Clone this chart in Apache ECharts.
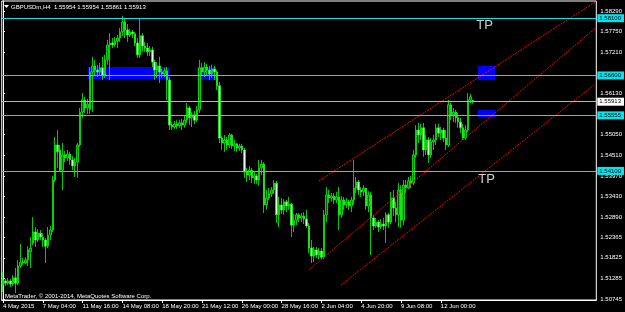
<!DOCTYPE html>
<html><head><meta charset="utf-8">
<script src="https://cdn.jsdelivr.net/npm/echarts@6/dist/echarts.min.js"></script>
<style>html,body{margin:0;padding:0;background:#000;}#c{width:625px;height:312px;}</style>
</head><body><div id="c"></div>
<script>
// ---- data (GBPUSDm, H4) ----
const openP = [
1.5111,1.5122,1.5116,1.5122,1.5114,1.5130,1.5116,1.5161,1.5171,1.5169,
1.5177,1.5198,1.5221,1.5250,1.5229,1.5247,1.5237,1.5229,1.5213,1.5242,
1.5255,1.5386,1.5478,1.5465,1.5412,1.5452,1.5444,1.5454,1.5439,1.5423,
1.5433,1.5478,1.5564,1.5596,1.5575,1.5570,1.5669,1.5685,1.5674,1.5669,
1.5680,1.5661,1.5701,1.5740,1.5745,1.5740,1.5750,1.5758,1.5774,1.5800,
1.5779,1.5766,1.5774,1.5769,1.5745,1.5714,1.5764,1.5737,1.5732,1.5722,
1.5727,1.5695,1.5674,1.5685,1.5669,1.5664,1.5672,1.5648,1.5530,1.5525,
1.5533,1.5528,1.5536,1.5530,1.5543,1.5575,1.5549,1.5557,1.5543,1.5570,
1.5680,1.5669,1.5682,1.5674,1.5664,1.5677,1.5669,1.5633,1.5496,1.5483,
1.5491,1.5478,1.5504,1.5475,1.5481,1.5470,1.5475,1.5465,1.5407,1.5399,
1.5412,1.5392,1.5397,1.5386,1.5418,1.5428,1.5321,1.5339,1.5350,1.5360,
1.5378,1.5295,1.5321,1.5308,1.5329,1.5318,1.5323,1.5268,1.5281,1.5295,
1.5287,1.5292,1.5284,1.5266,1.5208,1.5187,1.5203,1.5190,1.5200,1.5184,
1.5295,1.5347,1.5339,1.5344,1.5334,1.5342,1.5295,1.5334,1.5321,1.5329,
1.5318,1.5334,1.5365,1.5381,1.5360,1.5355,1.5365,1.5318,1.5347,1.5287,
1.5266,1.5276,1.5263,1.5271,1.5266,1.5295,1.5276,1.5339,1.5313,1.5295,
1.5360,1.5281,1.5373,1.5365,1.5384,1.5378,1.5452,1.5517,1.5504,1.5523,
1.5465,1.5491,1.5452,1.5486,1.5491,1.5523,1.5509,1.5517,1.5496,1.5478,
1.5583,1.5557,1.5564,1.5549,1.5538,1.5523,1.5496,1.5517,1.5596,1.55954];
const closeP = [
1.5124,1.5116,1.5122,1.5114,1.5130,1.5116,1.5161,1.5171,1.5169,1.5177,
1.5203,1.5208,1.5250,1.5229,1.5247,1.5237,1.5229,1.5213,1.5242,1.5255,
1.5386,1.5478,1.5460,1.5412,1.5452,1.5444,1.5454,1.5439,1.5423,1.5433,
1.5478,1.5564,1.5596,1.5575,1.5585,1.5669,1.5685,1.5674,1.5669,1.5680,
1.5661,1.5701,1.5740,1.5745,1.5740,1.5750,1.5758,1.5774,1.5800,1.5779,
1.5766,1.5774,1.5769,1.5745,1.5714,1.5764,1.5737,1.5732,1.5722,1.5727,
1.5695,1.5674,1.5685,1.5669,1.5664,1.5672,1.5648,1.5530,1.5525,1.5533,
1.5528,1.5536,1.5530,1.5543,1.5575,1.5549,1.5557,1.5543,1.5570,1.5680,
1.5669,1.5682,1.5674,1.5664,1.5677,1.5669,1.5633,1.5496,1.5483,1.5491,
1.5478,1.5504,1.5475,1.5481,1.5470,1.5475,1.5465,1.5407,1.5399,1.5412,
1.5392,1.5397,1.5386,1.5418,1.5428,1.5321,1.5339,1.5350,1.5360,1.5378,
1.5295,1.5321,1.5308,1.5329,1.5318,1.5323,1.5268,1.5281,1.5295,1.5287,
1.5292,1.5284,1.5266,1.5208,1.5187,1.5203,1.5190,1.5200,1.5184,1.5295,
1.5347,1.5339,1.5344,1.5334,1.5342,1.5295,1.5334,1.5321,1.5329,1.5318,
1.5334,1.5365,1.5381,1.5360,1.5355,1.5365,1.5318,1.5347,1.5287,1.5266,
1.5276,1.5263,1.5271,1.5266,1.5295,1.5276,1.5339,1.5313,1.5295,1.5360,
1.5281,1.5373,1.5365,1.5384,1.5378,1.5452,1.5517,1.5504,1.5523,1.5465,
1.5491,1.5452,1.5486,1.5491,1.5523,1.5509,1.5517,1.5496,1.5478,1.5583,
1.5557,1.5564,1.5549,1.5538,1.5523,1.5496,1.5517,1.5596,1.5604,1.55913];
const lowP = [
1.5093,1.5109,1.5111,1.5106,1.5109,1.5090,1.5111,1.5156,1.5164,1.5166,
1.5161,1.5156,1.5216,1.5211,1.5224,1.5229,1.5211,1.5169,1.5208,1.5229,
1.5250,1.5381,1.5418,1.5407,1.5360,1.5433,1.5436,1.5426,1.5412,1.5394,
1.5392,1.5473,1.5549,1.5562,1.5559,1.5559,1.5564,1.5659,1.5656,1.5661,
1.5648,1.5654,1.5688,1.5648,1.5732,1.5735,1.5732,1.5748,1.5764,1.5758,
1.5748,1.5761,1.5758,1.5737,1.5706,1.5706,1.5722,1.5722,1.5711,1.5711,
1.5682,1.5648,1.5654,1.5640,1.5654,1.5656,1.5596,1.5517,1.5517,1.5520,
1.5520,1.5523,1.5517,1.5523,1.5536,1.5530,1.5525,1.5533,1.5538,1.5562,
1.5659,1.5656,1.5661,1.5648,1.5654,1.5648,1.5622,1.5483,1.5465,1.5460,
1.5465,1.5470,1.5468,1.5462,1.5460,1.5462,1.5457,1.5392,1.5381,1.5386,
1.5378,1.5376,1.5376,1.5371,1.5399,1.5300,1.5308,1.5334,1.5342,1.5350,
1.5274,1.5263,1.5297,1.5295,1.5302,1.5308,1.5237,1.5250,1.5268,1.5276,
1.5276,1.5271,1.5261,1.5195,1.5169,1.5171,1.5182,1.5179,1.5179,1.5179,
1.5276,1.5326,1.5329,1.5323,1.5326,1.5255,1.5287,1.5308,1.5313,1.5308,
1.5302,1.5321,1.5352,1.5347,1.5342,1.5344,1.5308,1.5302,1.5190,1.5255,
1.5261,1.5250,1.5258,1.5255,1.5221,1.5261,1.5271,1.5292,1.5276,1.5263,
1.5261,1.5268,1.5352,1.5363,1.5365,1.5373,1.5444,1.5483,1.5491,1.5447,
1.5452,1.5431,1.5444,1.5465,1.5478,1.5499,1.5491,1.5486,1.5465,1.5473,
1.5543,1.5538,1.5536,1.5523,1.5509,1.5491,1.5491,1.5512,1.5588,1.55861];
const highP = [
1.5145,1.5127,1.5130,1.5127,1.5137,1.5156,1.5177,1.5219,1.5182,1.5184,
1.5213,1.5237,1.5289,1.5263,1.5258,1.5255,1.5247,1.5234,1.5263,1.5266,
1.5397,1.5499,1.5517,1.5478,1.5483,1.5462,1.5465,1.5460,1.5449,1.5444,
1.5483,1.5575,1.5614,1.5604,1.5599,1.5682,1.5709,1.5701,1.5688,1.5693,
1.5709,1.5714,1.5753,1.5771,1.5758,1.5761,1.5766,1.5784,1.5816,1.5811,
1.5795,1.5782,1.5779,1.5774,1.5758,1.5811,1.5771,1.5748,1.5745,1.5737,
1.5735,1.5701,1.5695,1.5709,1.5677,1.5680,1.5682,1.5656,1.5538,1.5541,
1.5543,1.5543,1.5546,1.5557,1.5588,1.5580,1.5564,1.5567,1.5580,1.5701,
1.5693,1.5695,1.5690,1.5685,1.5688,1.5685,1.5674,1.5643,1.5502,1.5504,
1.5499,1.5509,1.5507,1.5491,1.5483,1.5481,1.5481,1.5470,1.5418,1.5423,
1.5418,1.5407,1.5402,1.5439,1.5439,1.5433,1.5360,1.5365,1.5368,1.5386,
1.5384,1.5342,1.5339,1.5336,1.5334,1.5342,1.5326,1.5297,1.5300,1.5300,
1.5300,1.5302,1.5308,1.5274,1.5229,1.5211,1.5211,1.5208,1.5208,1.5308,
1.5368,1.5360,1.5352,1.5352,1.5355,1.5368,1.5344,1.5342,1.5339,1.5334,
1.5342,1.5439,1.5394,1.5386,1.5368,1.5373,1.5365,1.5357,1.5355,1.5295,
1.5287,1.5281,1.5284,1.5287,1.5302,1.5300,1.5355,1.5360,1.5329,1.5378,
1.5373,1.5386,1.5386,1.5394,1.5397,1.5465,1.5530,1.5536,1.5533,1.5536,
1.5504,1.5499,1.5496,1.5504,1.5533,1.5533,1.5525,1.5523,1.5517,1.5596,
1.5588,1.5575,1.5570,1.5562,1.5549,1.5533,1.5530,1.5614,1.5612,1.55954];

const timeLabels = ['4 May 2015','7 May 04:00','11 May 16:00','14 May 08:00','18 May 20:00','21 May 12:00',
  '26 May 00:00','28 May 16:00','2 Jun 04:00','4 Jun 20:00','9 Jun 08:00','12 Jun 00:00'];
const labelStep = 16;          // bars between time labels
const slotCount = 239;         // bar slots visible across the chart
const priceTicks = [1.58290,1.57750,1.57210,1.56130,1.55050,1.54510,1.53970,1.53430,1.52890,1.52365,1.51825,1.51285,1.50745];
const levelLines = [1.58100,1.56600,1.55555,1.54100];
const bidPrice = 1.55913;
const channelLines = [
  [[127.0,1.5384],[238.1,1.5853]],
  [[123.0,1.5151],[238.1,1.5784]],
  [[135.8,1.5111],[238.1,1.5638]]
];
const zones = [
  [34.0,1.5651,66.9,1.5682],
  [78.1,1.5648,85.7,1.5682],
  [190.8,1.5648,198.0,1.5685],
  [190.8,1.5551,198.0,1.5570]
];
const tpMarks = [[193.6,1.5790],[194.4,1.5389]];
const yMin = 1.5072, yMax = 1.5855;

// ---- chart ----
const categories = Array.from({length: slotCount}, (_, i) => String(i));
const candles = openP.map((o, i) => [o, closeP[i], lowP[i], highP[i]]);
const FONT = 'Liberation Sans';
const CYAN = '#00e5ee';
const showLabel = (idx) => idx % labelStep === 0 && idx / labelStep < timeLabels.length;

function levelItem(v, lineColor, bg) {
  return [
    {coord: [-0.5, v], lineStyle: {color: lineColor, width: 1, type: 'solid'},
     label: {show: true, position: 'end', distance: 1, formatter: () => v.toFixed(5),
       backgroundColor: bg, color: '#000', fontSize: 6, fontFamily: FONT, padding: [1, 3, 1, 2]}},
    {coord: [slotCount - 0.5, v]}
  ];
}

const chart = echarts.init(document.getElementById('c'), null, {renderer: 'canvas'});
const series = [];

series.push({
  type: 'line', xAxisIndex: 1, yAxisIndex: 0, data: [], z: 1, silent: true,
  markArea: {silent: true, itemStyle: {color: '#0000ff', opacity: 1},
    data: zones.map(z => [{coord: [z[0], z[1]]}, {coord: [z[2], z[3]]}])}
});

series.push({
  type: 'line', xAxisIndex: 1, yAxisIndex: 0, data: [], z: 2, silent: true,
  markLine: {
    symbol: ['none', 'none'], silent: true, animation: false,
    data: levelLines.map(v => levelItem(v, CYAN, CYAN)).concat([levelItem(bidPrice, '#b8b8b8', '#ffffff')])
  }
});

series.push({
  type: 'candlestick', xAxisIndex: 0, yAxisIndex: 0, data: candles, z: 3,
  barWidth: 2,
  itemStyle: {color: '#006400', color0: '#e0ffe0', borderColor: '#00ff00', borderColor0: '#00ff00', borderWidth: 0.8}
});

channelLines.forEach(seg => series.push({
  type: 'line', xAxisIndex: 1, yAxisIndex: 0, data: seg, z: 4, silent: true,
  showSymbol: false, symbol: 'none',
  lineStyle: {color: '#ff0000', width: 1, type: [2, 1]}
}));

series.push({
  type: 'scatter', xAxisIndex: 1, yAxisIndex: 0, data: tpMarks, z: 5, silent: true,
  symbolSize: 1, itemStyle: {color: 'rgba(0,0,0,0)'},
  label: {show: true, position: 'inside', formatter: 'TP', color: '#ffffff', fontSize: 13, fontFamily: FONT}
});

chart.setOption({
  backgroundColor: '#000000',
  animation: false,
  grid: {left: 1, right: 28, top: 1, bottom: 12, show: true, borderColor: '#ffffff', borderWidth: 1, backgroundColor: '#000000'},
  xAxis: [{
    type: 'category', data: categories, boundaryGap: true,
    axisLine: {show: true, lineStyle: {color: '#ffffff'}},
    axisTick: {show: true, alignWithLabel: true, interval: (i) => showLabel(i), length: 3, lineStyle: {color: '#ffffff'}},
    axisLabel: {show: true, interval: (i) => showLabel(i), formatter: (v, i) => timeLabels[Math.round(i / labelStep)] || '',
      color: '#ffffff', fontSize: 6, fontFamily: FONT, align: 'left', margin: 3},
    splitLine: {show: false}
  }, {
    type: 'value', min: -0.5, max: slotCount - 0.5, show: false
  }],
  yAxis: [{
    type: 'value', position: 'right', min: yMin, max: yMax, scale: true,
    axisLine: {show: true, lineStyle: {color: '#ffffff'}},
    axisTick: {show: true, customValues: priceTicks, length: 2, lineStyle: {color: '#ffffff'}},
    axisLabel: {show: true, customValues: priceTicks, formatter: v => v.toFixed(5), color: '#ffffff', fontSize: 6, fontFamily: FONT, margin: 4},
    splitLine: {show: false}
  }],
  graphic: [
    {type: 'polygon', shape: {points: [[4, 5], [9, 5], [6.5, 8]]}, style: {fill: '#ffffff'}},
    {type: 'text', x: 11, y: 7, style: {text: 'GBPUSDm,H4  1.55954 1.55954 1.55861 1.55913', fill: '#ffffff', fontSize: 6, fontFamily: FONT, textVerticalAlign: 'middle'}},
    {type: 'text', x: 5, y: 296, style: {text: 'MetaTrader, \u00a9 2001-2014, MetaQuotes Software Corp.', fill: '#ffffff', fontSize: 6, fontFamily: FONT, textVerticalAlign: 'middle'}}
  ],
  series: series
});
</script></body></html>
